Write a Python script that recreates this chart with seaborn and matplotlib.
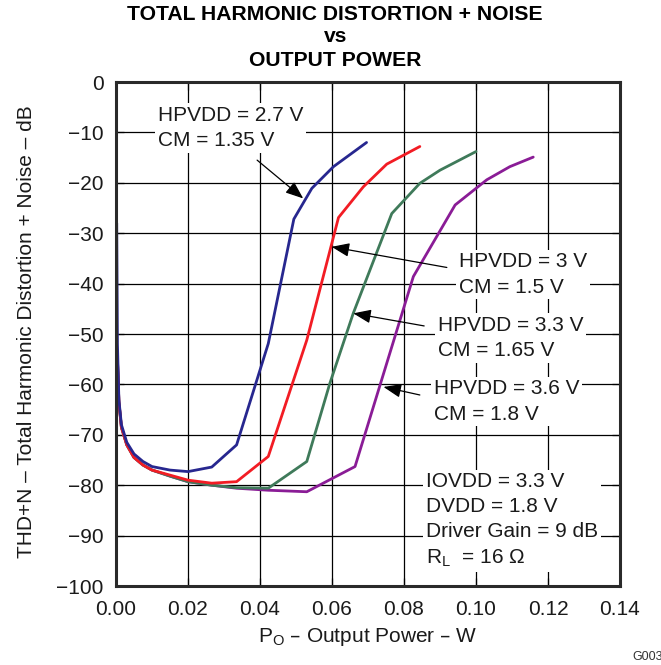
import matplotlib
matplotlib.use("Agg")
import matplotlib.pyplot as plt
import seaborn as sns
import pandas as pd

sns.set_theme(style="white")
plt.rcParams['font.family'] = ['Liberation Sans', 'DejaVu Sans']

# Data (Output power W, THD+N dB)
x_27 = [0.0002, 0.0004, 0.0008, 0.0015, 0.003, 0.005, 0.0075, 0.010, 0.015, 0.020, 0.0266, 0.0335, 0.0423, 0.0494, 0.0544, 0.0604, 0.0696]
y_27 = [-28.0, -52.0, -63.0, -68.0, -71.5, -73.8, -75.3, -76.3, -77.0, -77.3, -76.4, -72.0, -51.9, -27.2, -21.1, -16.8, -12.0]

x_30 = [0.0004, 0.0008, 0.0015, 0.003, 0.005, 0.0075, 0.010, 0.015, 0.020, 0.0266, 0.0335, 0.0423, 0.0530, 0.0618, 0.0687, 0.0752, 0.0844]
y_30 = [-55.0, -63.5, -68.5, -72.0, -74.5, -76.0, -77.0, -78.0, -79.0, -79.6, -79.3, -74.3, -51.2, -26.9, -20.8, -16.3, -12.8]

x_33 = [0.0004, 0.0008, 0.0015, 0.003, 0.005, 0.0075, 0.010, 0.015, 0.020, 0.0266, 0.0335, 0.0423, 0.0530, 0.0594, 0.0659, 0.0766, 0.0844, 0.090, 0.100]
y_33 = [-55.0, -63.5, -68.5, -72.0, -74.5, -76.0, -77.0, -78.2, -79.3, -80.0, -80.5, -80.6, -75.3, -59.8, -45.9, -26.1, -20.1, -17.5, -13.8]

x_36 = [0.0004, 0.0008, 0.0015, 0.003, 0.005, 0.0075, 0.010, 0.015, 0.020, 0.0266, 0.0335, 0.0423, 0.0530, 0.0664, 0.0826, 0.0942, 0.1030, 0.1094, 0.1159]
y_36 = [-55.0, -63.5, -68.5, -72.0, -74.5, -76.0, -77.0, -78.2, -79.3, -80.0, -80.6, -81.0, -81.3, -76.3, -38.6, -24.4, -19.4, -16.8, -14.9]

series_names = ["2.7 V", "3 V", "3.3 V", "3.6 V"]
series_colors = ["#27278f", "#f21c24", "#3f7a5a", "#8a1c96"]

x_ticks = [0.00, 0.02, 0.04, 0.06, 0.08, 0.10, 0.12, 0.14]
y_ticks = [0, -10, -20, -30, -40, -50, -60, -70, -80, -90, -100]

rows = []
for name, xs, ys in zip(series_names, [x_27, x_30, x_33, x_36], [y_27, y_30, y_33, y_36]):
    for i, (a, b) in enumerate(zip(xs, ys)):
        rows.append({"series": name, "order": i, "P": a, "THD": b})
df = pd.DataFrame(rows)

fig = plt.figure(figsize=(6.61, 6.65), dpi=100)
ax = fig.add_axes([116/661, 1-586/665, (620-116)/661, (586-82)/665])

# draw in reverse so blue is on top
for name in series_names[::-1]:
    sub = df[df.series == name]
    sns.lineplot(data=sub, x="P", y="THD", sort=False, ax=ax,
                 color=series_colors[series_names.index(name)], lw=2.0,
                 estimator=None, legend=False, zorder=4)

FS = 15
ax.set_xlim(0, 0.14)
ax.set_ylim(-100, 0)
ax.set_xticks(x_ticks)
ax.set_xticklabels([f"{t:.2f}" for t in x_ticks])
ax.set_yticks(y_ticks)
ax.set_yticklabels([f"{t:d}".replace("-", "\u2212") for t in y_ticks])
ax.grid(True, color="black", lw=0.9, zorder=1)
ax.set_axisbelow(True)
ax.tick_params(axis="both", which="both", direction="in", length=6, width=0.9,
               color="black", labelsize=FS, labelcolor="#1a1a1a",
               top=True, right=True, bottom=True, left=True)
ax.tick_params(axis="x", pad=10)
ax.tick_params(axis="y", pad=9)
for s in ax.spines.values():
    s.set_color("#2a2a2a")
    s.set_linewidth(2.2)
    s.set_zorder(6)

ax.set_xlabel("P$_\\mathregular{O}$ \u2013 Output Power \u2013 W", fontsize=FS, color="#1a1a1a")
ax.set_ylabel("THD+N \u2013 Total Harmonic Distortion + Noise \u2013 dB", fontsize=FS, color="#1a1a1a")
ax.xaxis.label.set_verticalalignment("center")
ax.xaxis.set_label_coords(0.5, (586 - 637) / 504)
ax.yaxis.label.set_verticalalignment("center")
ax.yaxis.set_label_coords((27 - 116) / 504, 0.504)

tfs = 15.2
fig.text(0.507, 1-14/665, "TOTAL HARMONIC DISTORTION + NOISE", ha="center", va="center",
         fontsize=tfs, fontweight="bold", color="black")
fig.text(0.507, 1-37/665, "vs", ha="center", va="center", fontsize=tfs, fontweight="bold", color="black")
fig.text(0.507, 1-61/665, "OUTPUT POWER", ha="center", va="center", fontsize=tfs, fontweight="bold", color="black")

bbox = dict(facecolor="white", edgecolor="none", pad=2)
tkw = dict(fontsize=FS, color="#1a1a1a", linespacing=1.42, zorder=5, bbox=bbox, va="center", ha="left")
ax.text(0.0117, -9.1, "HPVDD = 2.7 V\nCM = 1.35 V", **tkw)
ax.text(0.0953, -38.2, "HPVDD = 3 V\nCM = 1.5 V", **tkw)
ax.text(0.0894, -50.8, "HPVDD = 3.3 V\nCM = 1.65 V", **tkw)
ax.text(0.0883, -63.4, "HPVDD = 3.6 V\nCM = 1.8 V", **tkw)
ax.text(0.0861, -87.0, "IOVDD = 3.3 V\nDVDD = 1.8 V\nDriver Gain = 9 dB\nR$_\\mathregular{L}$  = 16 \u03a9", **tkw)

akw = dict(arrowstyle="-|>,head_length=0.9,head_width=0.35", color="black", lw=0.9, shrinkA=0, shrinkB=0)
ax.annotate("", xy=(0.0520, -23.1), xytext=(0.0392, -15.5), arrowprops=akw, zorder=6)
ax.annotate("", xy=(0.0599, -32.7), xytext=(0.0919, -36.8), arrowprops=akw, zorder=6)
ax.annotate("", xy=(0.0659, -45.9), xytext=(0.0856, -48.4), arrowprops=akw, zorder=6)
ax.annotate("", xy=(0.0743, -60.5), xytext=(0.0844, -62.1), arrowprops=akw, zorder=6)

fig.text(632/661, 1-657/665, "G003", fontsize=9, color="#333333", ha="left", va="center")

fig.savefig("out.png", dpi=100)
